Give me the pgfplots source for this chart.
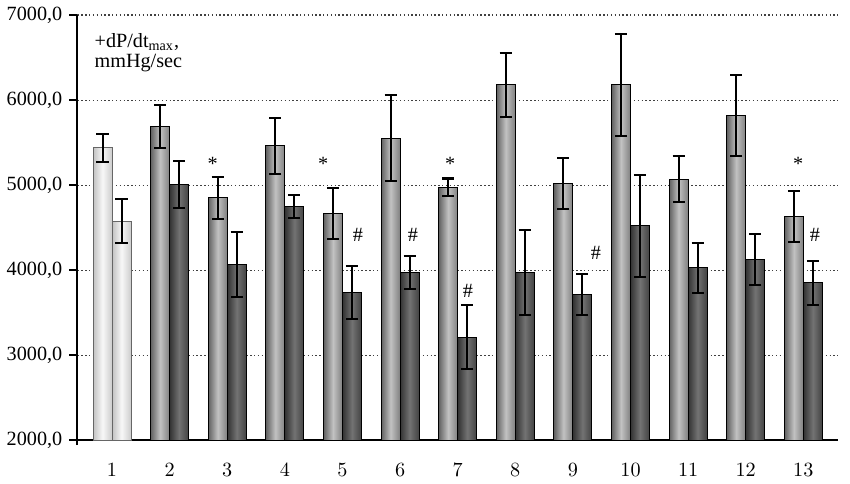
\documentclass[border=0pt]{standalone}
\usepackage{fontspec}
\setmainfont{Liberation Serif}
\usepackage{pgfplots}
\pgfplotsset{compat=1.18}

\pgfplotsset{
  errs/.style={
    error bars/.cd, y dir=both, y explicit,
    error bar style={line width=1pt, black},
    error mark options={rotate=90, mark size=3pt, line width=1pt, black},
  },
  % one \addplot per bar, so that each bar gets its own shading
  barA/.style={ybar, bar width=0.33, bar shift=0, draw=black, line width=0.5pt,
    left color=black!62, right color=black!50, middle color=black!24, errs},
  barB/.style={ybar, bar width=0.33, bar shift=0, draw=black, line width=0.5pt,
    left color=black!80, right color=black!74, middle color=black!55, errs},
  barW/.style={ybar, bar width=0.33, bar shift=0, draw=black!60, line width=0.5pt,
    left color=black!24, right color=black!20, middle color=black!3, errs},
}

\begin{document}
\begin{tikzpicture}
\begin{axis}[
  scale only axis, width=376.5pt, height=210.5pt,
  xmin=0.4, xmax=13.6, ymin=2000, ymax=7000,
  axis lines=left, axis line style={line width=1pt, -},
  y axis line style={shorten <=-2.5pt},
  xtick={1,...,13}, xtick style={draw=none},
  extra x ticks={13.6}, extra x tick labels={},
  extra x tick style={major tick length=4pt, tick style={draw=black, line width=1pt}},
  ytick={2000,3000,...,7000},
  tick align=outside, major tick length=4pt,
  ytick style={line width=1pt, black},
  ymajorgrids,
  grid style={dash pattern=on 0.7pt off 1.2pt, black!75, line width=0.5pt},
  tick label style={font=\fontsize{10}{12}\selectfont},
  xticklabel style={yshift=-4pt},
  yticklabel style={/pgf/number format/fixed, /pgf/number format/fixed zerofill,
    /pgf/number format/precision=1, /pgf/number format/use comma,
    /pgf/number format/1000 sep={}, /pgf/number format/assume math mode=true},
]
% group 1 (x = group -/+ 0.165)
\addplot[barW] coordinates {(0.835,5436) +- (0,170)};
\addplot[barW] coordinates {(1.165,4577) +- (0,255)};
% groups 2-13, first bar
\addplot[barA] coordinates {(1.835,5690) +- (0,255)};
\addplot[barA] coordinates {(2.835,4850) +- (0,250)};
\addplot[barA] coordinates {(3.835,5460) +- (0,330)};
\addplot[barA] coordinates {(4.835,4668) +- (0,300)};
\addplot[barA] coordinates {(5.835,5551) +- (0,505)};
\addplot[barA] coordinates {(6.835,4977) +- (0,100)};
\addplot[barA] coordinates {(7.835,6177) +- (0,380)};
\addplot[barA] coordinates {(8.835,5021) +- (0,300)};
\addplot[barA] coordinates {(9.835,6177) +- (0,600)};
\addplot[barA] coordinates {(10.835,5068) +- (0,270)};
\addplot[barA] coordinates {(11.835,5816) +- (0,480)};
\addplot[barA] coordinates {(12.835,4633) +- (0,300)};
% groups 2-13, second bar
\addplot[barB] coordinates {(2.165,5009) +- (0,275)};
\addplot[barB] coordinates {(3.165,4063) +- (0,385)};
\addplot[barB] coordinates {(4.165,4743) +- (0,135)};
\addplot[barB] coordinates {(5.165,3738) +- (0,310)};
\addplot[barB] coordinates {(6.165,3968) +- (0,195)};
\addplot[barB] coordinates {(7.165,3211) +- (0,375)};
\addplot[barB] coordinates {(8.165,3968) +- (0,500)};
\addplot[barB] coordinates {(9.165,3714) +- (0,245)};
\addplot[barB] coordinates {(10.165,4521) +- (0,600)};
\addplot[barB] coordinates {(11.165,4027) +- (0,297)};
\addplot[barB] coordinates {(12.165,4130) +- (0,300)};
\addplot[barB] coordinates {(13.165,3849) +- (0,260)};
% significance marks
\addplot[only marks, mark=none, nodes near coords={*},
  every node near coord/.append style={anchor=center, inner sep=0pt, font=\fontsize{10}{12}\selectfont}]
  coordinates {(2.746,5250) (4.663,5250) (6.868,5250) (12.909,5250)};
\addplot[only marks, mark=none, nodes near coords={\#},
  every node near coord/.append style={anchor=center, inner sep=0pt, font=\fontsize{10}{12}\selectfont}]
  coordinates {(5.267,4414) (6.225,4411) (7.179,3761) (9.4,4197) (13.2,4414)};
\node[anchor=north west, align=left, inner sep=0pt, font=\fontsize{10}{10}\selectfont]
  at (rel axis cs:0.022,0.958) {+dP/dt\textsubscript{max},\\mmHg/sec};
\end{axis}
\path ([xshift=-2pt]current axis.west);
\path ([xshift=6pt]current axis.east);
\path ([yshift=6pt]current axis.north);
\path ([yshift=-7pt]current axis.south);
\end{tikzpicture}
\end{document}
